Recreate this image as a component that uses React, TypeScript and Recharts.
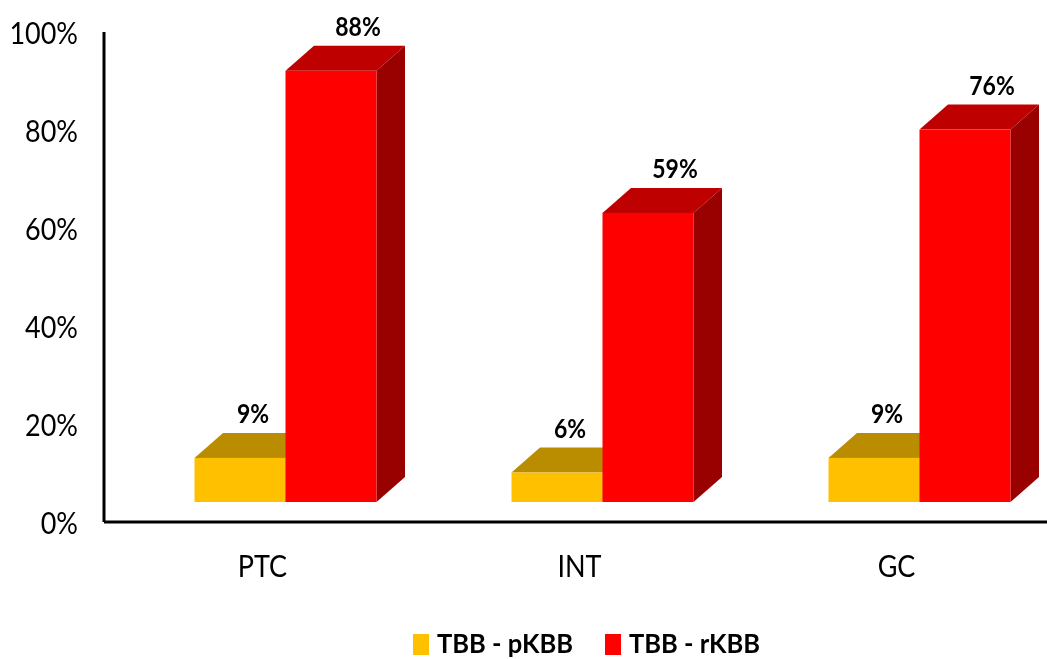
import { Bar, BarChart, LabelList, Legend, XAxis, YAxis } from 'recharts';

const categories = ['PTC', 'INT', 'GC'];
const pkbbValues = [9, 6, 9];
const rkbbValues = [88, 59, 76];
const yTicks = [0, 20, 40, 60, 80, 100];

const chartData = categories.map((name, i) => ({
  name,
  pkbb: pkbbValues[i],
  rkbb: rkbbValues[i],
}));

const FONT = 'Lato, Carlito, sans-serif';
const SHIFT_X = 22.5;
const FLOOR = 20;
const DEPTH_X = 28.5;
const DEPTH_Y = 25;
const STRETCH = 1.15;

// the original picture is stretched a bit in height, so the text is too
const Stretched = ({ x, y, anchor, size, weight, children }: any) => (
  <text
    transform={`translate(${x},${y}) scale(1,${STRETCH})`}
    textAnchor={anchor}
    dominantBaseline="central"
    fontFamily={FONT}
    fontWeight={weight}
    fontSize={size}
    fill="#000"
  >
    {children}
  </text>
);

const XTick = ({ x, y, payload }: any) => (
  <Stretched x={x} y={y} anchor="middle" size={27} weight={400}>{payload.value}</Stretched>
);

const YTick = ({ x, y, payload }: any) => (
  <Stretched x={x} y={y} anchor="end" size={27} weight={400}>{`${payload.value}%`}</Stretched>
);

const Box = (props: any) => {
  const { x, y, width, height, front, top, side } = props;
  const l = x + SHIFT_X;
  const r = l + width;
  const t = y - FLOOR;
  const b = t + height;
  return (
    <g>
      <polygon points={`${l},${t} ${l + DEPTH_X},${t - DEPTH_Y} ${r + DEPTH_X},${t - DEPTH_Y} ${r},${t}`} fill={top} />
      <polygon points={`${r},${t} ${r + DEPTH_X},${t - DEPTH_Y} ${r + DEPTH_X},${b - DEPTH_Y} ${r},${b}`} fill={side} />
      <rect x={l} y={t} width={width} height={height} fill={front} />
    </g>
  );
};

const boxLabel = (dx: number) => (props: any) => {
  const { x, y, width, value } = props;
  return (
    <Stretched x={x + SHIFT_X + width / 2 + dx} y={y - FLOOR - DEPTH_Y - 20} anchor="middle" size={23} weight={700}>
      {`${value}%`}
    </Stretched>
  );
};

const LegendRow = ({ payload }: any) => (
  <div style={{ position: 'relative', width: 1047, height: 30, fontFamily: FONT, fontWeight: 700, fontSize: 25.5, color: '#000' }}>
    {payload.map((entry: any, i: number) => (
      <div key={entry.value} style={{ position: 'absolute', left: i === 0 ? 413 : 605, top: 0, display: 'flex', alignItems: 'center', height: 30 }}>
        <span style={{ display: 'inline-block', width: 16, height: 21, background: entry.color, marginRight: 8, position: 'relative', top: 2 }} />
        <span style={{ whiteSpace: 'nowrap', lineHeight: '22px', transform: 'scaleY(1.08)' }}>{entry.value}</span>
      </div>
    ))}
  </div>
);

export default function App() {
  return (
    <div style={{ position: 'absolute', left: 0, top: 0, width: 1047, height: 659, overflow: 'hidden', background: '#fff', filter: 'blur(0.5px)' }}>
      <BarChart
        width={1047}
        height={659}
        data={chartData}
        margin={{ top: 32, right: -8, bottom: 77, left: 0 }}
        barCategoryGap={68}
        barGap={0}
      >
        <XAxis
          dataKey="name"
          axisLine={{ stroke: '#000', strokeWidth: 3 }}
          tickLine={false}
          tickMargin={37}
          tick={XTick}
        />
        <YAxis
          width={104}
          domain={[0, 100]}
          ticks={yTicks}
          axisLine={{ stroke: '#000', strokeWidth: 3 }}
          tickLine={false}
          tickMargin={20}
          tick={YTick}
        />
        <Legend
          verticalAlign="bottom"
          content={LegendRow}
          wrapperStyle={{ position: 'absolute', left: 0, top: 627, width: 1047, height: 30 }}
          height={0}
        />
        <Bar
          dataKey="pkbb"
          name="TBB - pKBB"
          fill="#FFC000"
          isAnimationActive={false}
          shape={(p: any) => <Box {...p} front="#FFC000" top="#BA8C00" side="#997300" />}
        >
          <LabelList dataKey="pkbb" content={boxLabel(13)} />
        </Bar>
        <Bar
          dataKey="rkbb"
          name="TBB - rKBB"
          fill="#FF0000"
          isAnimationActive={false}
          shape={(p: any) => <Box {...p} front="#FF0000" top="#BF0000" side="#990000" />}
        >
          <LabelList dataKey="rkbb" content={boxLabel(27)} />
        </Bar>
      </BarChart>
    </div>
  );
}
